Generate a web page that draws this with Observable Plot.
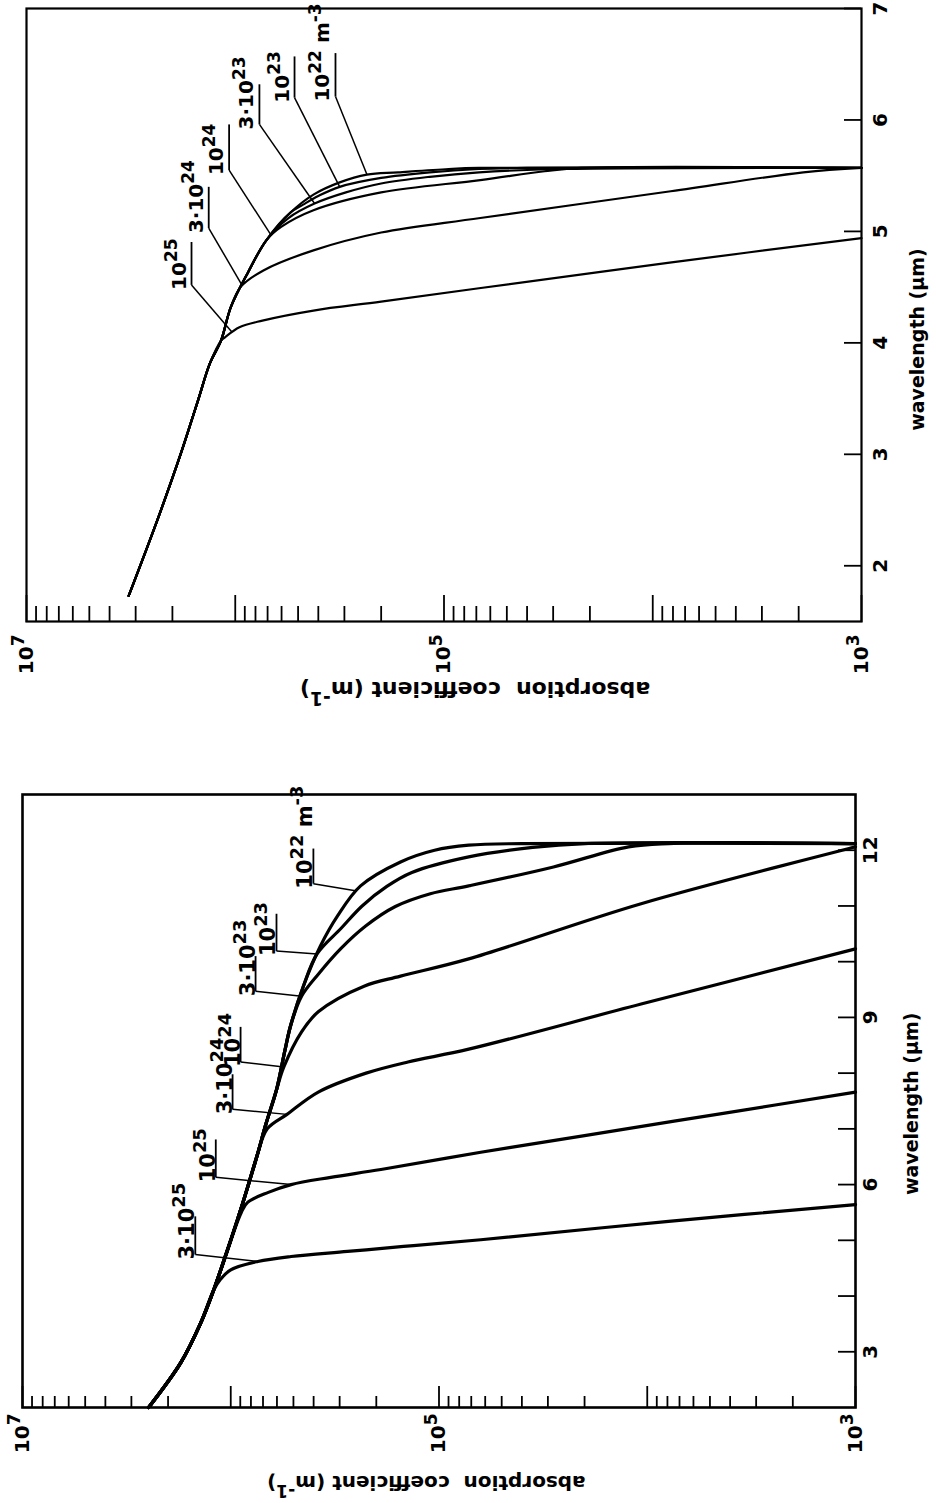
<!DOCTYPE html>
<html><head><meta charset="utf-8">
<script src="https://cdn.jsdelivr.net/npm/d3@7"></script>
<script src="https://cdn.jsdelivr.net/npm/@observablehq/plot@0.6"></script>
<style>
html,body{margin:0;padding:0;width:936px;height:1503px;overflow:hidden;background:#fff;}
#wrap{position:relative;width:936px;height:1503px;overflow:hidden;background:#fff;}
</style></head><body><div id="wrap"></div>
<script>
// ---------- TOP PANEL DATA: [wavelength µm, absorption coefficient m^-1] ----------
const topDensities = ["10^{25}", "3·10^{24}", "10^{24}", "3·10^{23}", "10^{23}", "10^{22} m^{-3}"];
const topEnvelope = [[1.73,3.24e6],[2.43,2.34e6],[3.01,1.82e6],[3.48,1.51e6],[3.82,1.32e6],[4.02,1.17e6],[4.32,1.05e6],[4.63,8.7e5],[4.92,7.1e5],[5.17,5.43e5],[5.33,4.22e5],[5.44,3.16e5],[5.51,2.34e5],[5.53,1.66e5],[5.56,9.5e4],[5.57,6.8e4],[5.57,1e3]];
const top_1e25 = [[4.05,1.12e6],[4.14,9.55e5],[4.20,7.41e5],[4.29,4.22e5],[4.37,2.0e5],[4.49,6.8e4],[4.72,8.3e3],[4.94,1e3]];
const top_3e24 = [[4.50,9.44e5],[4.65,7.33e5],[4.83,4.22e5],[4.99,2.0e5],[5.12,6.7e4],[5.36,8.2e3],[5.53,1.9e3],[5.57,1e3]];
const top_1e24 = [[5.04,6.03e5],[5.19,4.22e5],[5.35,2.0e5],[5.46,6.7e4],[5.54,3.3e4],[5.57,2.2e4],[5.57,1e3]];
const top_3e23 = [[5.12,5.56e5],[5.25,4.17e5],[5.35,2.95e5],[5.43,2.0e5],[5.49,1.17e5],[5.53,6.8e4],[5.56,2.75e4],[5.57,1e3]];
const top_1e23 = [[5.24,4.73e5],[5.32,3.98e5],[5.40,3.16e5],[5.48,2.0e5],[5.53,1.17e5],[5.56,6.8e4],[5.57,4.0e4],[5.57,1e3]];
const top_1e22 = []; // follows the envelope all the way
const topLabelLambda = [4.52, 5.03, 5.55, 5.96, 6.20, 6.21];
const topLabelAlpha = [1.62e6, 1.34e6, 1.07e6, 7.66e5, 5.2e5, 3.31e5];
const topUnderlineEnd = [4.905, 5.40, 5.96, 6.32, 6.57, 6.60];
const topTargetLambda = [4.10, 4.52, 4.96, 5.25, 5.40, 5.51];
const topTargetAlpha = [1.04e6, 9.3e5, 6.7e5, 4.17e5, 3.16e5, 2.34e5];
const topXTicks = [2, 3, 4, 5, 6, 7];
const topXLabels = [2, 3, 4, 5, 6, 7];

// ---------- BOTTOM PANEL DATA ----------
const botDensities = ["3·10^{25}", "10^{25}", "3·10^{24}", "10^{24}", "3·10^{23}", "10^{23}", "10^{22} m^{-3}"];
const botEnvelope = [[2.0,2.48e6],[2.8,1.74e6],[3.5,1.40e6],[4.1,1.21e6],[5.0,1.0e6],[5.7,8.7e5],[6.5,7.5e5],[7.1,6.76e5],[7.7,6.03e5],[8.4,5.5e5],[8.85,5.16e5],[9.56,4.48e5],[10.28,3.71e5],[10.82,3.07e5],[11.36,2.38e5],[11.79,1.53e5],[12.0,1.05e5],[12.09,7.2e4],[12.12,4.0e4],[12.12,1e3]];
const bot_3e25 = [[4.30,1.12e6],[4.47,1.0e6],[4.62,7.41e5],[4.71,5.13e5],[4.80,2.75e5],[4.89,1.48e5],[5.01,6.3e4],[5.34,7.9e3],[5.64,1e3]];
const bot_1e25 = [[5.50,8.9e5],[5.68,8.3e5],[5.86,6.6e5],[6.00,5.13e5],[6.13,3.31e5],[6.27,1.9e5],[6.58,6.3e4],[6.88,2.0e4],[7.27,4.47e3],[7.66,1e3]];
const bot_3e24 = [[7.00,6.68e5],[7.26,5.37e5],[7.66,3.8e5],[8.00,2.24e5],[8.20,1.41e5],[8.43,7.2e4],[9.24,1.07e4],[10.23,1e3]];
const bot_1e24 = [[8.11,5.56e5],[8.74,4.57e5],[9.10,3.8e5],[9.56,2.29e5],[9.74,1.53e5],[10.05,7.2e4],[11.04,1.07e4],[12.06,1e3]];
const bot_3e23 = [[9.38,4.57e5],[9.78,3.79e5],[10.23,2.97e5],[10.64,2.25e5],[10.99,1.62e5],[11.22,1.10e5],[11.36,7.2e4],[11.70,2.82e4],[12.06,1.23e4],[12.12,7.9e3],[12.12,1e3]];
const bot_1e23 = [[10.14,3.85e5],[10.60,2.95e5],[11.00,2.34e5],[11.35,1.78e5],[11.60,1.35e5],[11.88,7.2e4],[12.05,3.55e4],[12.12,2.0e4],[12.12,1e3]];
const bot_1e22 = [];
const botLabelLambda = [4.745, 6.13, 7.35, 8.20, 9.47, 10.19, 11.40];
const botLabelAlpha = [1.48e6, 1.18e6, 9.8e5, 8.97e5, 7.6e5, 6.03e5, 4.01e5];
const botUnderlineEnd = [5.43, 6.81, 7.98, 8.83, 10.10, 10.86, 12.03];
const botTargetLambda = [4.62, 6.00, 7.26, 8.11, 9.38, 10.14, 11.27];
const botTargetAlpha = [7.41e5, 5.13e5, 5.37e5, 5.56e5, 4.57e5, 3.85e5, 2.48e5];
const botXTicks = [3, 4, 5, 6, 7, 8, 9, 10, 11, 12];
const botXLabels = [3, 6, 9, 12];

// shared
const alphaMajor = [1e3, 1e4, 1e5, 1e6, 1e7];
const alphaMinor = [2e3,3e3,4e3,5e3,6e3,7e3,8e3,9e3,2e4,3e4,4e4,5e4,6e4,7e4,8e4,9e4,2e5,3e5,4e5,5e5,6e5,7e5,8e5,9e5,2e6,3e6,4e6,5e6,6e6,7e6,8e6,9e6];
const alphaLabels = [1e7, 1e5, 1e3];
const yTitle = "absorption  coefficient (m^{-1})";
const xTitle = "wavelength (\u03bcm)";

function applySup(svg) {
  const ns = "http://www.w3.org/2000/svg";
  for (const t of svg.querySelectorAll("text")) {
    const s = t.textContent;
    if (!s.includes("^{")) continue;
    while (t.firstChild) t.removeChild(t.firstChild);
    const re = /\^\{([^}]*)\}/g;
    let last = 0, m, raised = false;
    const add = (str, sup) => {
      const ts = document.createElementNS(ns, "tspan");
      ts.textContent = str;
      if (sup) { ts.setAttribute("font-size", "85%"); ts.setAttribute("dy", "-0.5em"); }
      else if (raised) ts.setAttribute("dy", "0.425em");
      t.appendChild(ts);
      raised = sup;
    };
    while ((m = re.exec(s))) {
      if (m.index > last) add(s.slice(last, m.index), false);
      add(m[1], true);
      last = re.lastIndex;
    }
    if (last < s.length) add(s.slice(last), false);
  }
}

function panel(cfg) {
  const fw = cfg.W - cfg.ml - cfg.mr, fh = cfg.H - cfg.mt - cfg.mb;
  const rows = [];
  cfg.curves.forEach((pts, i) => {
    const first = pts.length ? pts[0][0] : Infinity;
    const all = pts.length ? cfg.envelope.filter(p => p[0] < first).concat(pts) : cfg.envelope;
    all.forEach(([l, a]) => rows.push({series: cfg.names[i], l, a}));
  });
  const labels = cfg.names.map((name, i) => ({
    text: name, l: cfg.labL[i], a: cfg.labA[i], ul: cfg.ulEnd[i], tl: cfg.tgL[i], ta: cfg.tgA[i]
  }));
  const svg = Plot.plot({
    width: cfg.W, height: cfg.H,
    marginLeft: cfg.ml, marginRight: cfg.mr, marginTop: cfg.mt, marginBottom: cfg.mb,
    x: {domain: cfg.xDomain},
    y: {type: "log", domain: [1e3, 1e7]},
    style: {fontFamily: "'DejaVu Sans', sans-serif", fontWeight: "bold", color: "black", background: "white", whiteSpace: "pre", overflow: "visible"},
    marks: [
      Plot.tickY(alphaMinor, {insetRight: fw - cfg.minorLen, strokeWidth: 1.8, stroke: "black"}),
      Plot.tickY(alphaMajor, {insetRight: fw - cfg.majorLen, strokeWidth: 1.8, stroke: "black"}),
      Plot.tickX(cfg.xTicks, {insetTop: fh - cfg.xTickLen, strokeWidth: 1.8, stroke: "black"}),
      Plot.axisY({ticks: alphaLabels, tickSize: 0, tickPadding: cfg.yPad, label: null,
        tickFormat: d => "10^{" + Math.round(Math.log10(d)) + "}", fontSize: cfg.tickFont}),
      Plot.axisX({ticks: cfg.xLabels, tickSize: 0, tickPadding: cfg.xPad, label: null,
        tickFormat: d => String(d), fontSize: cfg.tickFont}),
      Plot.line(rows, {x: "l", y: "a", z: "series", curve: "catmull-rom", stroke: "black", strokeWidth: cfg.curveW, strokeLinejoin: "round"}),
      Plot.link(labels, {x1: "l", y1: "a", x2: "tl", y2: "ta", stroke: "black", strokeWidth: 1.5}),
      Plot.link(labels, {x1: "l", y1: "a", x2: "ul", y2: "a", stroke: "black", strokeWidth: 1.8}),
      Plot.text(labels, {x: "l", y: "a", text: "text", textAnchor: "start", lineAnchor: "bottom", dx: -5, dy: cfg.labDy, fontSize: cfg.labFont}),
      Plot.text([yTitle], {y: () => cfg.yTitleAlpha, frameAnchor: "left", textAnchor: "middle", lineAnchor: "middle", rotate: -90, dx: cfg.yTitleDx, fontSize: cfg.yTitleFont}),
      Plot.text([xTitle], {x: () => cfg.xTitleL, frameAnchor: "bottom", textAnchor: "middle", lineAnchor: "middle", dy: cfg.xTitleDy, fontSize: cfg.titleFont}),
      Plot.frame({stroke: "black", strokeWidth: cfg.frameW})
    ]
  });
  applySup(svg);
  svg.style.position = "absolute";
  svg.style.left = "0px";
  svg.style.top = cfg.top + "px";
  svg.style.maxWidth = "none";
  svg.style.transformOrigin = "0 0";
  svg.style.transform = "rotate(-90deg)";
  return svg;
}

const wrap = document.getElementById("wrap");
wrap.appendChild(panel({
  W: 722, H: 936, ml: 100, mr: 9, mt: 26, mb: 75, top: 722,
  xDomain: [1.5, 7], xTicks: topXTicks, xLabels: topXLabels,
  envelope: topEnvelope, curves: [top_1e25, top_3e24, top_1e24, top_3e23, top_1e23, top_1e22], names: topDensities,
  labL: topLabelLambda, labA: topLabelAlpha, ulEnd: topUnderlineEnd, tgL: topTargetLambda, tgA: topTargetAlpha,
  minorLen: 16, majorLen: 27, xTickLen: 17, yPad: 13, xPad: 11,
  tickFont: 20, labFont: 20, titleFont: 19, yTitleFont: 22, labDy: -6, curveW: 2.2, frameW: 2.2,
  yTitleAlpha: 7.1e4, yTitleDx: -68, xTitleL: 4.03, xTitleDy: 56
}));
wrap.appendChild(panel({
  W: 720, H: 936, ml: 95, mr: 12, mt: 22, mb: 81, top: 1503,
  xDomain: [2, 13], xTicks: botXTicks, xLabels: botXLabels,
  envelope: botEnvelope, curves: [bot_3e25, bot_1e25, bot_3e24, bot_1e24, bot_3e23, bot_1e23, bot_1e22], names: botDensities,
  labL: botLabelLambda, labA: botLabelAlpha, ulEnd: botUnderlineEnd, tgL: botTargetLambda, tgA: botTargetAlpha,
  minorLen: 12, majorLen: 22, xTickLen: 17, yPad: 6, xPad: 7,
  tickFont: 20, labFont: 21, titleFont: 19, yTitleFont: 20, labDy: -1, curveW: 3.2, frameW: 2.6,
  yTitleAlpha: 1.15e5, yTitleDx: -75, xTitleL: 7.45, xTitleDy: 56
}));
</script></body></html>
